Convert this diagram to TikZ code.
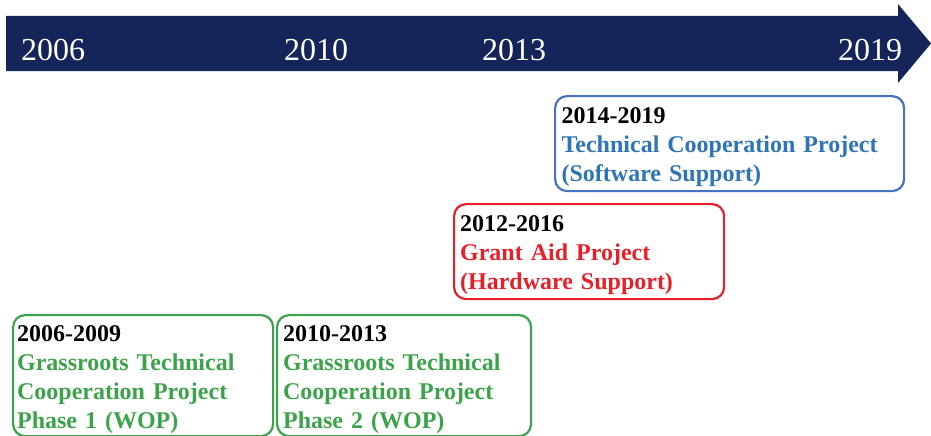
\documentclass[tikz,border=0pt]{standalone}
\usepackage{fontspec}
\setmainfont{Liberation Serif}
\usetikzlibrary{positioning}
\definecolor{barnavy}{RGB}{21,36,89}
\definecolor{softblue}{RGB}{46,117,182}
\definecolor{edgeblue}{RGB}{68,114,196}
\definecolor{grantred}{RGB}{230,32,40}
\definecolor{wopgreen}{RGB}{59,163,73}
\newcommand{\period}[1]{\rule{0pt}{23pt}\textcolor{black}{#1}}

\begin{document}
\begin{tikzpicture}[x=1pt,y=-1pt,
  year/.style={anchor=base west,text=white,inner sep=0pt,font=\fontsize{32}{36}\selectfont},
  project/.style={anchor=north west,draw,line width=2.2pt,rounded corners=12pt,
    align=left,inner xsep=6pt,inner ysep=0pt,font=\bfseries\fontsize{24}{29}\selectfont}]
\useasboundingbox (0,0) rectangle (931,436);
% timeline arrow
\fill[barnavy] (6,16) -- (898,16) -- (898,4) -- (931,43.5) -- (898,83) -- (898,71) -- (6,71) -- cycle;
\node[year] (y2006) at (21,60) {2006};
\node[year] (y2010) at (284,60) {2010};
\node[year] (y2013) at (482,60) {2013};
\node[year] (y2019) at (838,60) {2019};
% project boxes
\node[project,draw=edgeblue,text=softblue,text width=336pt,minimum width=349pt,minimum height=95pt] (tcp) at (554,95)
  {\period{2014-2019}\\Technical Cooperation Project\\(Software Support)};
\node[project,draw=grantred,text=grantred,text width=258pt,minimum width=270pt,minimum height=95pt] (grant) at (453,203)
  {\period{2012-2016}\\Grant Aid Project\\(Hardware Support)};
\node[project,draw=wopgreen,text=wopgreen,inner xsep=4pt,text width=252pt,minimum width=260pt,minimum height=121pt] (wop1) at (12,314)
  {\period{2006-2009}\\Grassroots Technical\\Cooperation Project\\Phase 1 (WOP)};
\node[project,draw=wopgreen,text=wopgreen,text width=242pt,minimum width=254pt,minimum height=121pt] (wop2) at (276,314)
  {\period{2010-2013}\\Grassroots Technical\\Cooperation Project\\Phase 2 (WOP)};
\end{tikzpicture}
\end{document}
